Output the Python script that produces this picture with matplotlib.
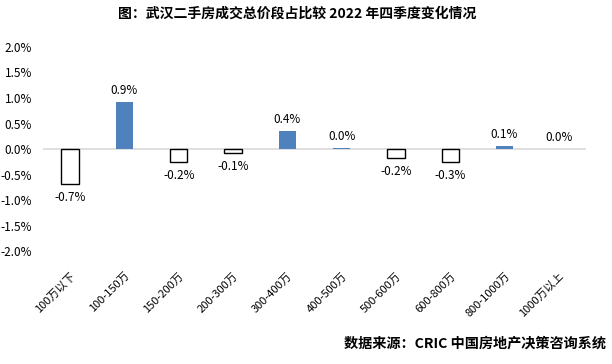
import matplotlib.pyplot as plt
from matplotlib.ticker import FuncFormatter

plt.rcParams['font.family'] = ['Noto Sans CJK SC', 'DejaVu Sans']
plt.rcParams['axes.unicode_minus'] = False

# data
categories = ['100万以下', '100-150万', '150-200万', '200-300万', '300-400万',
              '400-500万', '500-600万', '600-800万', '800-1000万', '1000万以上']
values = [-0.69, 0.92, -0.26, -0.085, 0.36, 0.02, -0.18, -0.26, 0.06, 0.0]
labels = ['-0.7%', '0.9%', '-0.2%', '-0.1%', '0.4%', '0.0%', '-0.2%', '-0.3%', '0.1%', '0.0%']

fig = plt.figure(figsize=(6.12, 3.64), dpi=100)
ax = fig.add_axes([0.0703, 0.3104, 0.8872, 0.5605])

x = range(len(categories))
colors = ['#4F81BD' if v >= 0 else 'white' for v in values]
edges = ['black' if v < 0 else 'none' for v in values]
widths = [1 if v < 0 else 0 for v in values]
ax.bar(x, values, width=0.32, color=colors, edgecolor=edges, linewidth=widths, zorder=3)

for i, v in enumerate(values):
    if v >= 0:
        ax.text(i, v + 0.1, labels[i], ha='center', va='bottom', fontsize=8.5)
    else:
        ax.text(i, v - 0.14, labels[i], ha='center', va='top', fontsize=8.5)

ax.axhline(0, color='#D9D9D9', linewidth=1.2, zorder=2)
ax.set_xlim(-0.5, len(categories) - 0.5)
ax.set_ylim(-2.0, 2.0)
ax.set_yticks([-2.0, -1.5, -1.0, -0.5, 0.0, 0.5, 1.0, 1.5, 2.0])
ax.yaxis.set_major_formatter(FuncFormatter(lambda v, p: '%.1f%%' % v))
ax.set_xticks(list(x))
ax.set_xticklabels(categories, rotation=45, ha='right', rotation_mode='anchor', fontsize=8)
ax.tick_params(axis='y', labelsize=8.5, length=0, pad=8)
ax.tick_params(axis='x', length=0, pad=14)
for s in ax.spines.values():
    s.set_visible(False)

fig.text(0.485, 0.962, '图：武汉二手房成交总价段占比较 2022 年四季度变化情况',
         ha='center', va='center', fontsize=10, fontweight='bold')
fig.text(0.99, 0.057, '数据来源：CRIC 中国房地产决策咨询系统',
         ha='right', va='center', fontsize=10.2, fontweight='bold')

fig.savefig('out.png', dpi=100)
